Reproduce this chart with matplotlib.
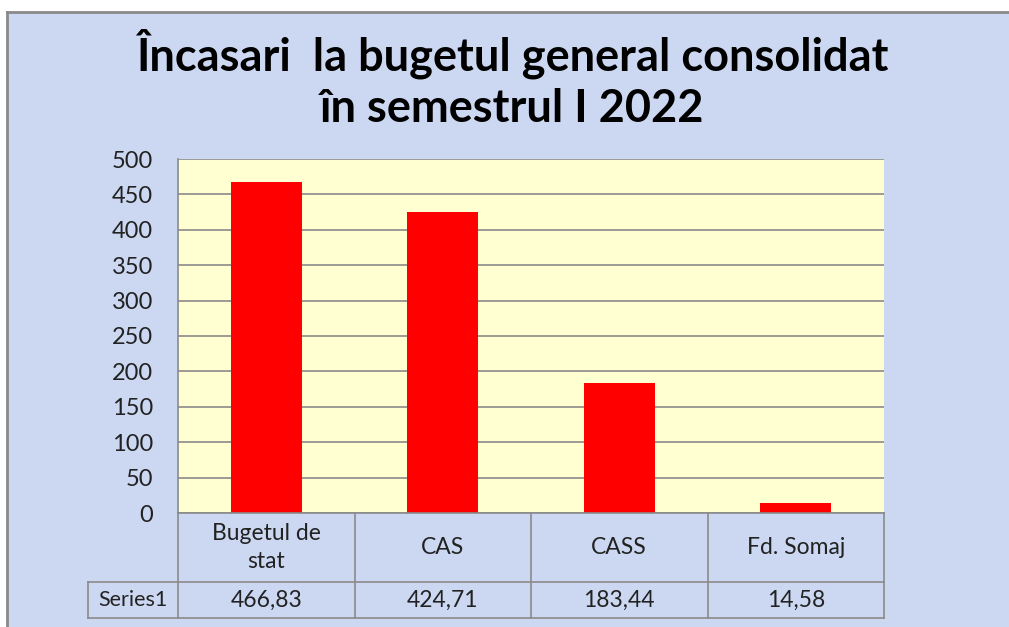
import matplotlib
matplotlib.use("Agg")
import matplotlib.pyplot as plt
from matplotlib.lines import Line2D

categories = ["Bugetul de\nstat", "CAS", "CASS", "Fd. Somaj"]
values = [466.83, 424.71, 183.44, 14.58]
value_labels = ["466,83", "424,71", "183,44", "14,58"]
series_name = "Series1"
yticks = [0, 50, 100, 150, 200, 250, 300, 350, 400, 450, 500]
title = "Încasari  la bugetul general consolidat\nîn semestrul I 2022"

W, H = 1009, 627
fig = plt.figure(figsize=(W / 100, H / 100), dpi=100)
fig.patch.set_facecolor("white")

def fx(px):
    return px / W

def fy(py):
    return 1 - py / H

# background panel
bg = plt.Rectangle((fx(7), 0), 1 - fx(7), fy(12), transform=fig.transFigure,
                   facecolor="#ccd8f2", edgecolor="none", zorder=-5)
fig.patches.append(bg)
fig.lines.append(Line2D([fx(7), 1], [fy(12), fy(12)], transform=fig.transFigure,
                        color="#8a8a8a", lw=2))
fig.lines.append(Line2D([fx(7), fx(7)], [0, fy(12)], transform=fig.transFigure,
                        color="#8a8a8a", lw=2))

fam = ["Lato", "DejaVu Sans"]
fig.text(0.508, fy(79), title, ha="center", va="center", fontsize=32.5,
         fontweight="bold", family=fam, linespacing=1.25)

left, right, top, bottom = 178, 884, 159, 513
ax = fig.add_axes([fx(left), fy(bottom), fx(right) - fx(left), fy(top) - fy(bottom)])
ax.set_zorder(2)
ax.set_facecolor("#ffffd2")
x = list(range(len(values)))
ax.bar(x, values, width=0.4, color="#ff0000", zorder=3)
ax.set_xlim(-0.5, len(values) - 0.5)
ax.set_ylim(0, 500)
ax.set_yticks(yticks)
ax.set_yticklabels([str(t) for t in yticks], fontsize=17, family=fam, color="#222222")
ax.set_xticks([])
ax.yaxis.grid(True, color="#8a8a8a", lw=1.2, zorder=1)
ax.tick_params(axis="y", length=0, pad=18)
for s in ["top", "right", "bottom"]:
    ax.spines[s].set_visible(False)
ax.spines["left"].set_color("#8a8a8a")
ax.spines["left"].set_linewidth(1.2)

# data table
cw = (right - left) / len(values)
row1_bot, row2_bot = 582, 618
tl = 88
lc = "#8a8a8a"
def hline(x0, x1, y):
    fig.lines.append(Line2D([fx(x0), fx(x1)], [fy(y), fy(y)], transform=fig.transFigure, color=lc, lw=1.2))
def vline(xp, y0, y1):
    fig.lines.append(Line2D([fx(xp), fx(xp)], [fy(y0), fy(y1)], transform=fig.transFigure, color=lc, lw=1.2))

hline(left, right, bottom)
hline(tl, right, row1_bot)
hline(tl, right, row2_bot)
vline(tl, row1_bot, row2_bot)
for i in range(len(values) + 1):
    vline(left + i * cw, bottom, row2_bot)

fs = 16.5
for i, (c, v) in enumerate(zip(categories, value_labels)):
    cx = left + (i + 0.5) * cw
    fig.text(fx(cx), fy((bottom + row1_bot) / 2), c, ha="center", va="center",
             fontsize=fs, family=fam, color="#222222", linespacing=1.45)
    fig.text(fx(cx), fy((row1_bot + row2_bot) / 2), v, ha="center", va="center",
             fontsize=fs, family=fam, color="#222222")
fig.text(fx((tl + left) / 2), fy((row1_bot + row2_bot) / 2), series_name, ha="center",
         va="center", fontsize=15.5, family=fam, color="#222222")

fig.savefig("out.png", dpi=100)
